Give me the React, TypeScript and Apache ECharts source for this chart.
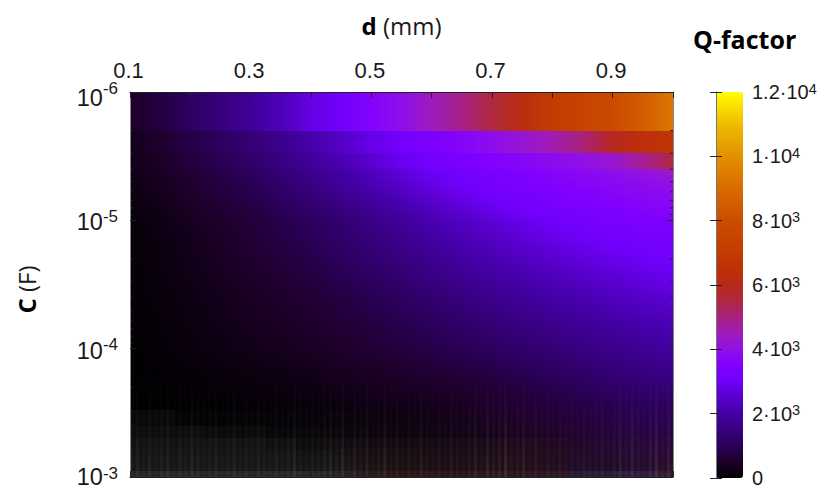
import React, { useEffect, useRef } from "react";
import * as echarts from "echarts";

const dNodes = [0.1,0.15,0.2,0.25,0.3,0.35,0.4,0.45,0.5,0.55,0.6,0.65,0.7,0.75,0.8,0.85,0.9,0.95,1.0];
const cBands = [1e-6,2e-6,3e-6,4e-6,5e-6,6e-6,7e-6,8e-6,9e-6,1e-5,2e-5,3e-5,4e-5,5e-5,6e-5,7e-5,8e-5,9e-5,1e-4,2e-4,3e-4,4e-4,5e-4,6e-4,7e-4,8e-4,9e-4,1e-3];
const qRows = [
[500,750,1100,1450,1850,2250,2750,3100,3550,3950,4450,4950,5500,6300,6950,7450,7900,8500,9300],
[350,550,820,1080,1350,1700,2080,2400,2800,3100,3400,3640,3900,4200,4550,5050,5900,6450,6700],
[300,470,720,950,1200,1510,1850,2180,2550,2870,3130,3350,3520,3680,3840,4000,4250,4800,5500],
[260,420,640,850,1080,1370,1680,2010,2350,2680,2950,3170,3360,3510,3650,3790,3930,4120,4400],
[230,380,580,780,980,1250,1540,1860,2190,2510,2790,3020,3220,3390,3530,3650,3770,3890,4030],
[200,340,530,720,900,1150,1420,1720,2040,2340,2630,2880,3090,3270,3410,3530,3650,3750,3870],
[180,310,490,660,825,1060,1310,1590,1890,2190,2480,2740,2960,3150,3300,3430,3550,3650,3750],
[160,285,450,610,765,980,1220,1480,1770,2060,2340,2610,2840,3040,3210,3340,3460,3560,3660],
[140,265,420,570,710,915,1140,1390,1660,1940,2220,2490,2730,2940,3110,3250,3380,3480,3580],
[100,230,380,530,700,870,1060,1300,1570,1850,2140,2380,2600,2820,3000,3170,3300,3380,3450],
[80,180,300,430,560,700,850,1040,1250,1470,1700,1930,2150,2330,2500,2660,2800,2930,3050],
[70,160,260,370,480,600,720,880,1050,1240,1450,1650,1850,2030,2200,2350,2500,2650,2800],
[60,140,230,330,430,530,640,770,920,1090,1280,1460,1650,1830,2000,2150,2300,2430,2550],
[50,125,210,305,400,495,590,710,840,990,1150,1320,1500,1670,1830,1990,2150,2280,2400],
[45,115,195,285,370,460,550,660,780,915,1060,1220,1380,1540,1700,1850,2000,2140,2280],
[40,105,180,265,345,430,515,620,730,855,990,1140,1290,1440,1590,1730,1880,2030,2180],
[35,100,170,250,325,405,490,585,690,805,930,1070,1210,1355,1500,1640,1780,1930,2080],
[30,95,160,235,310,385,465,555,650,760,880,1010,1140,1280,1420,1560,1700,1850,2000],
[25,85,150,220,295,365,440,525,610,715,830,950,1080,1210,1350,1480,1620,1760,1900],
[10,30,60,95,130,175,220,290,360,410,470,540,620,750,880,1010,1150,1250,1350],
[0,10,20,35,50,75,100,140,190,230,280,370,480,560,650,750,850,930,1000],
[0,5,10,20,30,45,60,90,120,155,200,270,350,420,500,600,700,780,850],
[0,0,5,10,20,30,40,60,80,105,140,190,250,310,380,470,560,640,720],
[0,0,5,5,10,20,30,45,60,85,110,150,190,240,300,370,450,530,600],
[0,0,0,5,10,15,20,30,45,60,80,110,150,190,240,300,370,440,500],
[0,0,0,5,5,10,15,25,35,45,60,90,120,160,200,250,310,370,430],
[0,0,0,5,5,10,10,15,25,35,50,70,100,130,170,210,260,310,360],
];

// pale haze near the bottom of the map
const hazeTint = ["255,255,255","255,255,255","255,255,255","255,255,255","255,255,255","255,255,255","255,255,255","255,220,220","255,170,170","255,150,150","255,150,150","255,150,150","255,150,150","255,150,150","255,150,170","220,170,255","200,180,255","220,170,255","255,160,170"];
const hazeBands = [3e-4,4e-4,5e-4,6e-4,7e-4,8e-4,9e-4,1e-3];
const hazeRows = [
[.035,.035,.012,.012,.012,.012,.012,.012,.012,.012,.012,.012,.012,.012,.012,.012,.012,.012,.012],
[.05,.05,.05,.04,.04,.025,.025,.025,.025,.025,.025,.025,.025,.025,.025,.025,.025,.025,.025],
[.07,.07,.07,.07,.07,.06,.045,.05,.06,.06,.06,.06,.06,.06,.05,.04,.04,.04,.04],
[.08,.08,.08,.08,.08,.08,.065,.07,.08,.08,.08,.08,.08,.08,.07,.06,.05,.05,.05],
[.085,.085,.085,.085,.085,.085,.08,.085,.09,.09,.09,.09,.09,.09,.08,.07,.06,.06,.06],
[.09,.09,.09,.09,.09,.09,.09,.095,.1,.1,.1,.1,.1,.1,.09,.08,.07,.07,.08],
[.15,.15,.15,.15,.15,.15,.15,.15,.15,.15,.15,.15,.15,.15,.15,.15,.15,.15,.15],
];

// faint vertical streaks that fade out upward
const streakAlpha = [.02,.05,.02,.05,.02,.04,.06,.02,.05,.03,.07,.04,.02,.04,.05,.02,.03,.06,.02,.04,.02,.05,.03,.02,.05,.02,.04,.07,.03,.02,.04,.03,.05,.07,.04,.08,.02,.06,.04,.07,.02,.04,.08,.03,.05,.02,.04,.02,.06,.03,.02,.04,.02,.05,.03,.02,.04,.07,.02,.08,.04,.06,.1,.03,.04,.07,.02,.05,.02,.04,.02,.04,.02,.03,.02,.04,.02,.03,.05,.02,.04,.07,.03,.08,.04,.02,.06,.1,.03,.07];

const yMinorTicks = [2e-6,3e-6,4e-6,5e-6,6e-6,7e-6,8e-6,9e-6,2e-5,3e-5,4e-5,5e-5,6e-5,7e-5,8e-5,9e-5,2e-4,3e-4,4e-4,5e-4,6e-4,7e-4,8e-4,9e-4];
const xTopLabels = ["0.1","","0.3","","0.5","","0.7","","0.9",""];
const yLabels: Record<string, string> = { "-6": "{a|10}{s|-6}", "-5": "{b|10}{s|-5}", "-4": "{b|10}{s|-4}", "-3": "{c|10}{s|-3}" };
const barLabels = ["0","2·10{s|3}","4·10{s|3}","6·10{s|3}","8·10{s|3}","1·10{s|4}","1.2·10{s|4}"];
// colour bar stops, one every 500
const colorStops = ["#000000","#1d0028","#2a0058","#380080","#4300a4","#5800cc","#7000fc","#8000ff","#9010e8","#a01cb8","#a82080","#b02840","#b82818","#be3008","#c23c00","#c84400","#cc4c00","#d25c00","#d86c00","#dd7e00","#e29000","#e9a600","#f0bc00","#f8dc00","#ffff00"];

const FONT = "'Liberation Sans', Arial, sans-serif";
const TITLE_FONT = "'Open Sans', sans-serif";
const DARK = "#1a1a1a";
const BLEND_FROM_ROW = 3;
const SLICE_PX = 3;

const colorAt = (q: number) => echarts.color.lerp(Math.min(1, Math.max(0, q / 12000)), colorStops);

const rowItems = qRows.map((_, r) => [0.1, cBands[r], 1, cBands[r + 1], r]);
const hazeCells: number[][] = [];
hazeRows.forEach((row, r) => row.forEach((a, c) => {
  hazeCells.push([Math.max(0.1, dNodes[c] - 0.025), hazeBands[r], Math.min(1, dNodes[c] + 0.025), hazeBands[r + 1], a, c]);
}));
const streaks = streakAlpha.map((a, i) => [0.1 + i * 0.01, 0.1 + (i + 0.5) * 0.01, a]);

function rowGradient(r: number, t: number) {
  const next = qRows[r + 1] ?? qRows[r];
  const stops = qRows[r].map((q, c) => ({
    offset: (dNodes[c] - 0.1) / 0.9,
    color: colorAt(q + (next[c] - q) * t),
  }));
  return new echarts.graphic.LinearGradient(0, 0, 1, 0, stops);
}

export default function App() {
  const ref = useRef<HTMLDivElement>(null);
  useEffect(() => {
    const chart = echarts.init(ref.current!, undefined, { renderer: "svg" });
    const lineTick = { show: true, inside: true, length: 6, lineStyle: { color: "#222", width: 1 } };
    const nameRich = { b: { fontFamily: TITLE_FONT, fontWeight: "bold", fontSize: 24, color: "#000" } };
    chart.setOption({
      animation: false,
      backgroundColor: "#fff",
      textStyle: { fontFamily: FONT },
      grid: [
        { left: 130, top: 92, width: 543, height: 385, show: false },
        { left: 716, top: 92, width: 27, height: 386, show: false },
      ],
      xAxis: [
        {
          gridIndex: 0, type: "value", position: "top", min: 0.1, max: 1, interval: 0.1, z: 10,
          name: "{b|d} (mm)", nameLocation: "middle", nameGap: 55,
          nameTextStyle: { fontFamily: TITLE_FONT, fontSize: 24, color: DARK, rich: nameRich },
          axisLine: { show: true, lineStyle: { color: "#222" } }, axisTick: lineTick, splitLine: { show: false },
          axisLabel: { color: DARK, fontSize: 22, fontFamily: FONT, margin: 11, padding: [0, 3, 0, 0], showMinLabel: true, showMaxLabel: true, hideOverlap: false,
            formatter: (_: number, i: number) => xTopLabels[i] ?? "" },
        },
        {
          gridIndex: 0, type: "value", position: "bottom", min: 0.1, max: 1, interval: 0.1, z: 10,
          axisLine: { show: true, lineStyle: { color: "#222" } }, axisTick: lineTick, splitLine: { show: false }, axisLabel: { show: false },
        },
        { gridIndex: 1, type: "value", min: 0, max: 1, show: false },
      ],
      yAxis: [
        {
          gridIndex: 0, type: "log", logBase: 10, inverse: true, min: 1e-6, max: 1e-3, position: "left", z: 10,
          name: "{b|C} (F)", nameLocation: "middle", nameGap: 92, nameRotate: 90,
          nameTextStyle: { fontFamily: TITLE_FONT, fontSize: 24, color: DARK, rich: nameRich, padding: [0, 10, 0, 0] },
          axisLine: { show: true, lineStyle: { color: "#888" } }, axisTick: lineTick, splitLine: { show: false }, minorTick: { show: false },
          axisLabel: { color: DARK, fontSize: 23.5, fontFamily: FONT, margin: 12, showMinLabel: true, showMaxLabel: true,
            formatter: (v: number) => yLabels[String(Math.round(Math.log10(v)))] ?? "",
            rich: {
              a: { fontSize: 23.5, fontFamily: FONT, color: DARK, padding: [12, 0, 0, 0] },
              b: { fontSize: 23.5, fontFamily: FONT, color: DARK, padding: [4, 0, 0, 0] },
              c: { fontSize: 23.5, fontFamily: FONT, color: DARK },
              s: { fontSize: 17, fontFamily: FONT, color: DARK, padding: [0, 0, 8, 0] },
            } },
        },
        {
          gridIndex: 0, type: "log", logBase: 10, inverse: true, min: 1e-6, max: 1e-3, position: "right", z: 10,
          axisLine: { show: true, lineStyle: { color: "#888" } }, axisTick: lineTick, splitLine: { show: false }, axisLabel: { show: false },
        },
        {
          gridIndex: 1, type: "value", min: 0, max: 12000, interval: 2000, position: "right", z: 10,
          axisLine: { show: true, lineStyle: { color: "#777" } }, axisTick: lineTick, splitLine: { show: false },
          axisLabel: { color: DARK, fontSize: 20, fontFamily: FONT, margin: 9, showMinLabel: true, showMaxLabel: true,
            formatter: (_: number, i: number) => barLabels[i] ?? "",
            rich: { s: { fontSize: 14.5, fontFamily: FONT, color: DARK, padding: [0, 0, 7, 0] } } },
        },
        {
          gridIndex: 1, type: "value", min: 0, max: 12000, interval: 2000, position: "left", z: 10,
          axisLine: { show: true, lineStyle: { color: "#777" } }, axisTick: lineTick, splitLine: { show: false }, axisLabel: { show: false },
        },
      ],
      visualMap: [{
        type: "continuous", seriesIndex: [], min: 0, max: 12000, calculable: false, realtime: false,
        left: 716, top: 92, padding: 0, itemWidth: 27, itemHeight: 386, text: ["", ""], showLabel: false, hoverLink: false,
        inRange: { color: colorStops }, z: 3,
      }],
      graphic: [{
        type: "text", left: 693, top: 26, z: 20,
        style: { text: "Q-factor", fontFamily: TITLE_FONT, fontWeight: "bold", fontSize: 25, fill: "#000" },
      }],
      series: [
        {
          type: "custom", coordinateSystem: "cartesian2d", xAxisIndex: 0, yAxisIndex: 0, data: rowItems,
          encode: { x: [0, 2], y: [1, 3] }, silent: true, z: 2,
          renderItem: (_: any, api: any) => {
            const p0 = api.coord([api.value(0), api.value(1)]);
            const p1 = api.coord([api.value(2), api.value(3)]);
            const r = api.value(4);
            const x0 = Math.round(p0[0]), x1 = Math.round(p1[0]);
            const y0 = Math.round(p0[1]), y1 = Math.round(p1[1]);
            const children: any[] = [];
            const step = r < BLEND_FROM_ROW ? y1 - y0 : SLICE_PX;
            for (let y = y0; y < y1; y += step) {
              const h = Math.min(step, y1 - y);
              const t = r < BLEND_FROM_ROW ? 0 : (y - y0) / (y1 - y0);
              children.push({ type: "rect", shape: { x: x0, y, width: x1 - x0, height: h }, style: { fill: rowGradient(r, t), stroke: null }, silent: true });
            }
            return { type: "group", silent: true, children };
          },
        },
        {
          type: "custom", coordinateSystem: "cartesian2d", xAxisIndex: 0, yAxisIndex: 0, data: hazeCells,
          encode: { x: [0, 2], y: [1, 3] }, silent: true, z: 3,
          renderItem: (_: any, api: any) => {
            const p0 = api.coord([api.value(0), api.value(1)]);
            const p1 = api.coord([api.value(2), api.value(3)]);
            const x0 = Math.round(p0[0]), y0 = Math.round(p0[1]);
            const x1 = Math.round(p1[0]), y1 = Math.round(p1[1]);
            return { type: "rect", shape: { x: x0, y: y0, width: x1 - x0, height: y1 - y0 }, style: { fill: `rgba(${hazeTint[api.value(5)]},${api.value(4)})`, stroke: null }, silent: true };
          },
        },
        {
          type: "custom", coordinateSystem: "cartesian2d", xAxisIndex: 0, yAxisIndex: 0, data: streaks,
          encode: { x: [0, 1] }, silent: true, z: 4,
          renderItem: (_: any, api: any) => {
            const p0 = api.coord([api.value(0), 1.5e-4]);
            const p1 = api.coord([api.value(1), 1e-3]);
            const a = api.value(2);
            return {
              type: "rect",
              shape: { x: p0[0], y: p0[1], width: p1[0] - p0[0], height: p1[1] - p0[1] },
              style: { stroke: null, fill: new echarts.graphic.LinearGradient(0, 0, 0, 1, [
                { offset: 0, color: "rgba(255,255,255,0)" },
                { offset: 1, color: `rgba(255,255,255,${a})` },
              ]) },
              silent: true,
            };
          },
        },
        {
          type: "custom", coordinateSystem: "cartesian2d", xAxisIndex: 0, yAxisIndex: 0, data: yMinorTicks.map((c) => [c]),
          encode: { y: 0 }, silent: true, z: 6,
          renderItem: (_: any, api: any) => {
            const yp = api.coord([0.1, api.value(0)])[1];
            const xl = api.coord([0.1, 1e-6])[0];
            const xr = api.coord([1, 1e-6])[0];
            const style = { stroke: "#222", lineWidth: 1 };
            return { type: "group", silent: true, children: [
              { type: "line", shape: { x1: xl, y1: yp, x2: xl + 3, y2: yp }, style },
              { type: "line", shape: { x1: xr - 3, y1: yp, x2: xr, y2: yp }, style },
            ] };
          },
        },
      ],
    });
    return () => chart.dispose();
  }, []);
  return <div ref={ref} style={{ position: "absolute", left: 0, top: 0, width: 831, height: 503 }} />;
}
